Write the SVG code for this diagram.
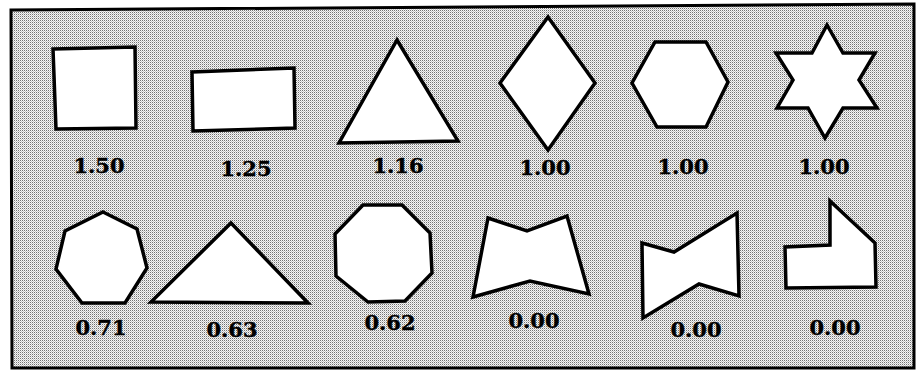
<svg xmlns="http://www.w3.org/2000/svg" width="919" height="371" viewBox="0 0 919 371">
<defs>
<pattern id="stip" x="0" y="0" width="2" height="2" patternUnits="userSpaceOnUse">
<rect width="2" height="2" fill="#f6f6f6"/>
<rect x="0" y="0" width="1" height="1" fill="#727272"/>
<rect x="1" y="1" width="1" height="1" fill="#c4c4c4"/>
</pattern>
</defs>
<style>
.sh{fill:#fff;stroke:#000;stroke-width:3.5;stroke-linejoin:miter}
.lb{font-family:"DejaVu Serif","Liberation Serif",serif;font-weight:bold;font-size:21px;fill:#000;stroke:#000;stroke-width:0.4;text-anchor:middle}
</style>
<rect width="919" height="371" fill="#fff"/>
<path d="M11,10 L914,4 L914,368 L12,368 Z" fill="url(#stip)" stroke="#000" stroke-width="3"/>
<g id="n1"><polygon class="sh" points="53,49 135,47 136,128 56,129"/><text class="lb" x="99" y="173">1.50</text></g>
<g id="n2"><polygon class="sh" points="192,72 294,68 295,128 193,131"/><text class="lb" x="246" y="176">1.25</text></g>
<g id="n3"><polygon class="sh" points="397,40 458,141 339,143"/><text class="lb" x="398" y="173">1.16</text></g>
<g id="n4"><polygon class="sh" points="548,17 595,83 548,150 500,83"/><text class="lb" x="545" y="175">1.00</text></g>
<g id="n5"><polygon class="sh" points="655,42 706,42 728,82 706,127 657,127 632,83"/><text class="lb" x="683" y="174">1.00</text></g>
<g id="n6"><polygon class="sh" points="827,25 843,53 875,53 859,80 877,108 843,108 825,138 808,108 777,108 793,80 776,53 812,53"/><text class="lb" x="824" y="174">1.00</text></g>
<g id="n7"><polygon class="sh" points="103,212 137,229 147,268 125,303 82,303 56,269 65,231"/><text class="lb" x="101" y="335">0.71</text></g>
<g id="n8"><polygon class="sh" points="231,223 308,303 151,302"/><text class="lb" x="232" y="337">0.63</text></g>
<g id="n9"><polygon class="sh" points="363,205 402,205 430,233 432,273 405,301 368,302 336,276 335,234"/><text class="lb" x="390" y="330">0.62</text></g>
<g id="n10"><polygon class="sh" points="488,218 527,231 567,216 589,294 530,281 473,297"/><text class="lb" x="534" y="328">0.00</text></g>
<g id="n11"><polygon class="sh" points="642,243 674,252 737,213 739,296 699,284 643,318"/><text class="lb" x="696" y="337">0.00</text></g>
<g id="n12"><polygon class="sh" points="830,201 875,243 876,287 786,288 785,247 830,245"/><text class="lb" x="835" y="335">0.00</text></g>
<g id="connectors"/>
</svg>
